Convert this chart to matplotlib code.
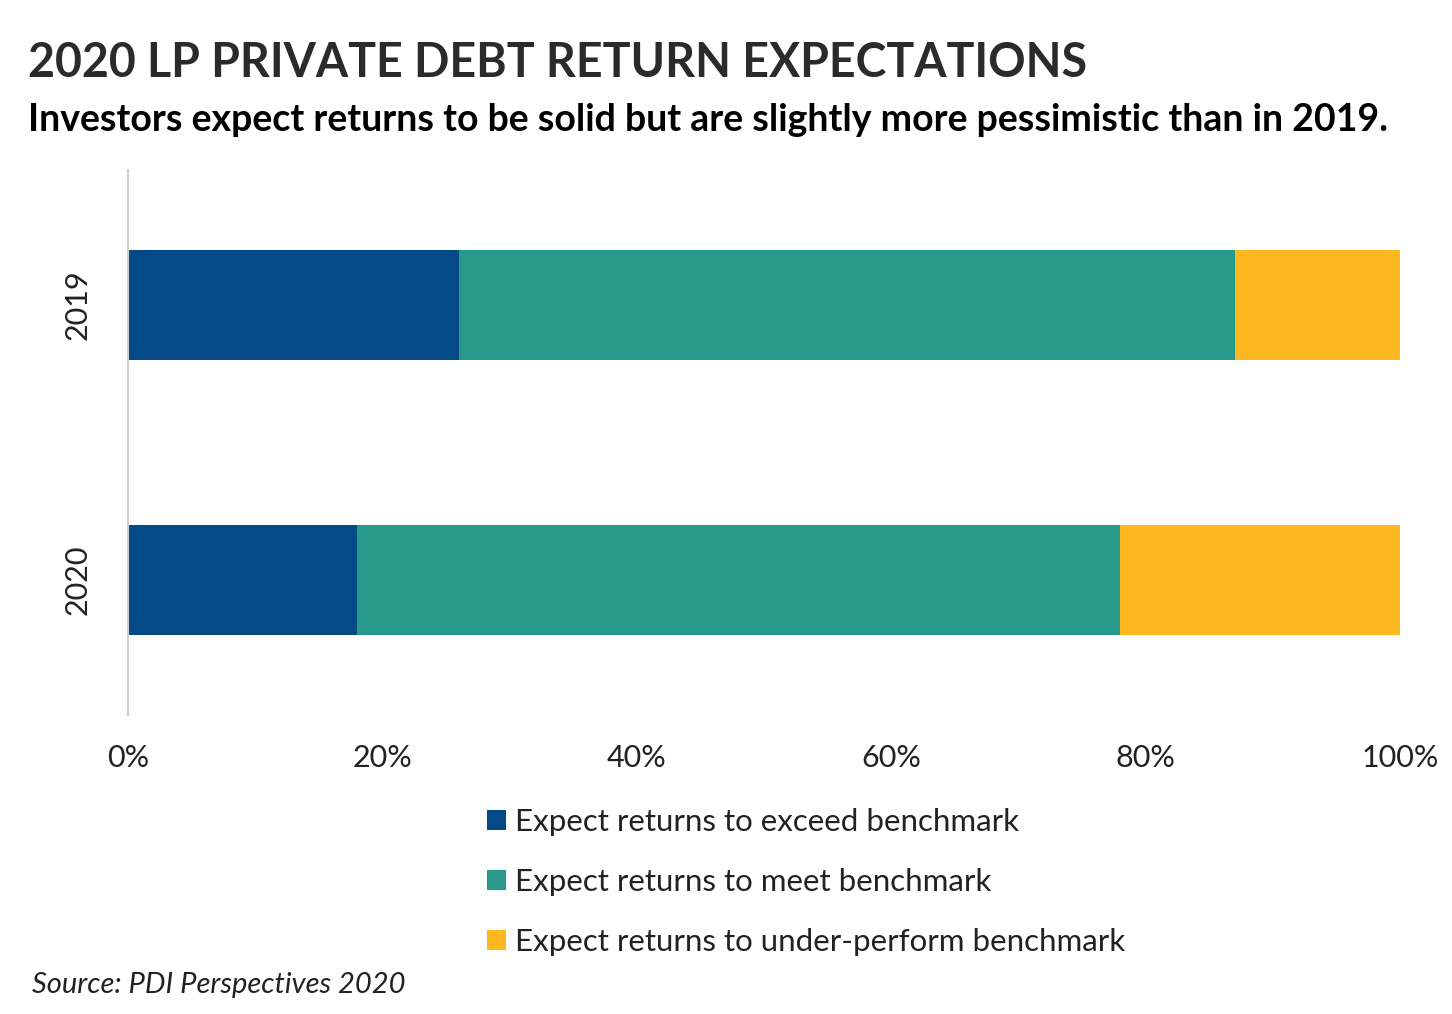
import matplotlib
matplotlib.use("Agg")
import matplotlib.pyplot as plt
from matplotlib.patches import Patch

plt.rcParams["font.family"] = ["Lato", "DejaVu Sans"]

years = ["2019", "2020"]
exceed = [26, 18]
meet = [61, 60]
under = [13, 22]
series_labels = [
    "Expect returns to exceed benchmark",
    "Expect returns to meet benchmark",
    "Expect returns to under-perform benchmark",
]
colors = ["#034A87", "#26998A", "#FDB81F"]
x_ticks = [0, 20, 40, 60, 80, 100]

fig = plt.figure(figsize=(14.52, 10.14), dpi=100)
ax = fig.add_axes([128 / 1452, 1 - 715 / 1014, 1272 / 1452, 545 / 1014])

pos = list(range(len(years)))
left = [0] * len(years)
for vals, col, lab in zip([exceed, meet, under], colors, series_labels):
    ax.barh(pos, vals, left=left, height=0.4, color=col, label=lab)
    left = [a + b for a, b in zip(left, vals)]

ax.set_xlim(0, 100)
ax.set_ylim(1.49, -0.49)
ax.set_yticks(pos)
ax.set_yticklabels(years, rotation=90, va="center", fontsize=22, color="#222222")
ax.set_xticks(x_ticks)
ax.set_xticklabels([f"{t}%" for t in x_ticks], fontsize=22, color="#222222")
ax.tick_params(axis="both", length=0)
ax.tick_params(axis="x", pad=21)
ax.tick_params(axis="y", pad=26)
for s in ["top", "right", "bottom"]:
    ax.spines[s].set_visible(False)
ax.spines["left"].set_color("#d0d0d0")
ax.spines["left"].set_linewidth(1.5)

fig.text(28 / 1452, 1 - 63 / 1014, "2020 LP PRIVATE DEBT RETURN EXPECTATIONS",
         fontsize=33.5, fontweight="bold", color="#2b2b2b", va="center")
fig.text(28 / 1452, 1 - 120 / 1014,
         "Investors expect returns to be solid but are slightly more pessimistic than in 2019.",
         fontsize=27, fontweight="bold", color="#000000", va="center")

handles = [Patch(facecolor=c, label=l) for c, l in zip(colors, series_labels)]
fig.legend(handles=handles, loc="upper left", bbox_to_anchor=(487 / 1452, 1 - 808 / 1014),
           frameon=False, fontsize=22.5, handlelength=0.6, handleheight=0.6,
           handletextpad=0.3, labelspacing=1.02, borderpad=0, borderaxespad=0,
           labelcolor="#222222")

fig.text(32 / 1452, 1 - 985 / 1014, "Source: PDI Perspectives 2020",
         fontsize=21, style="italic", color="#222222", va="center")

fig.savefig("out.png", dpi=100)
